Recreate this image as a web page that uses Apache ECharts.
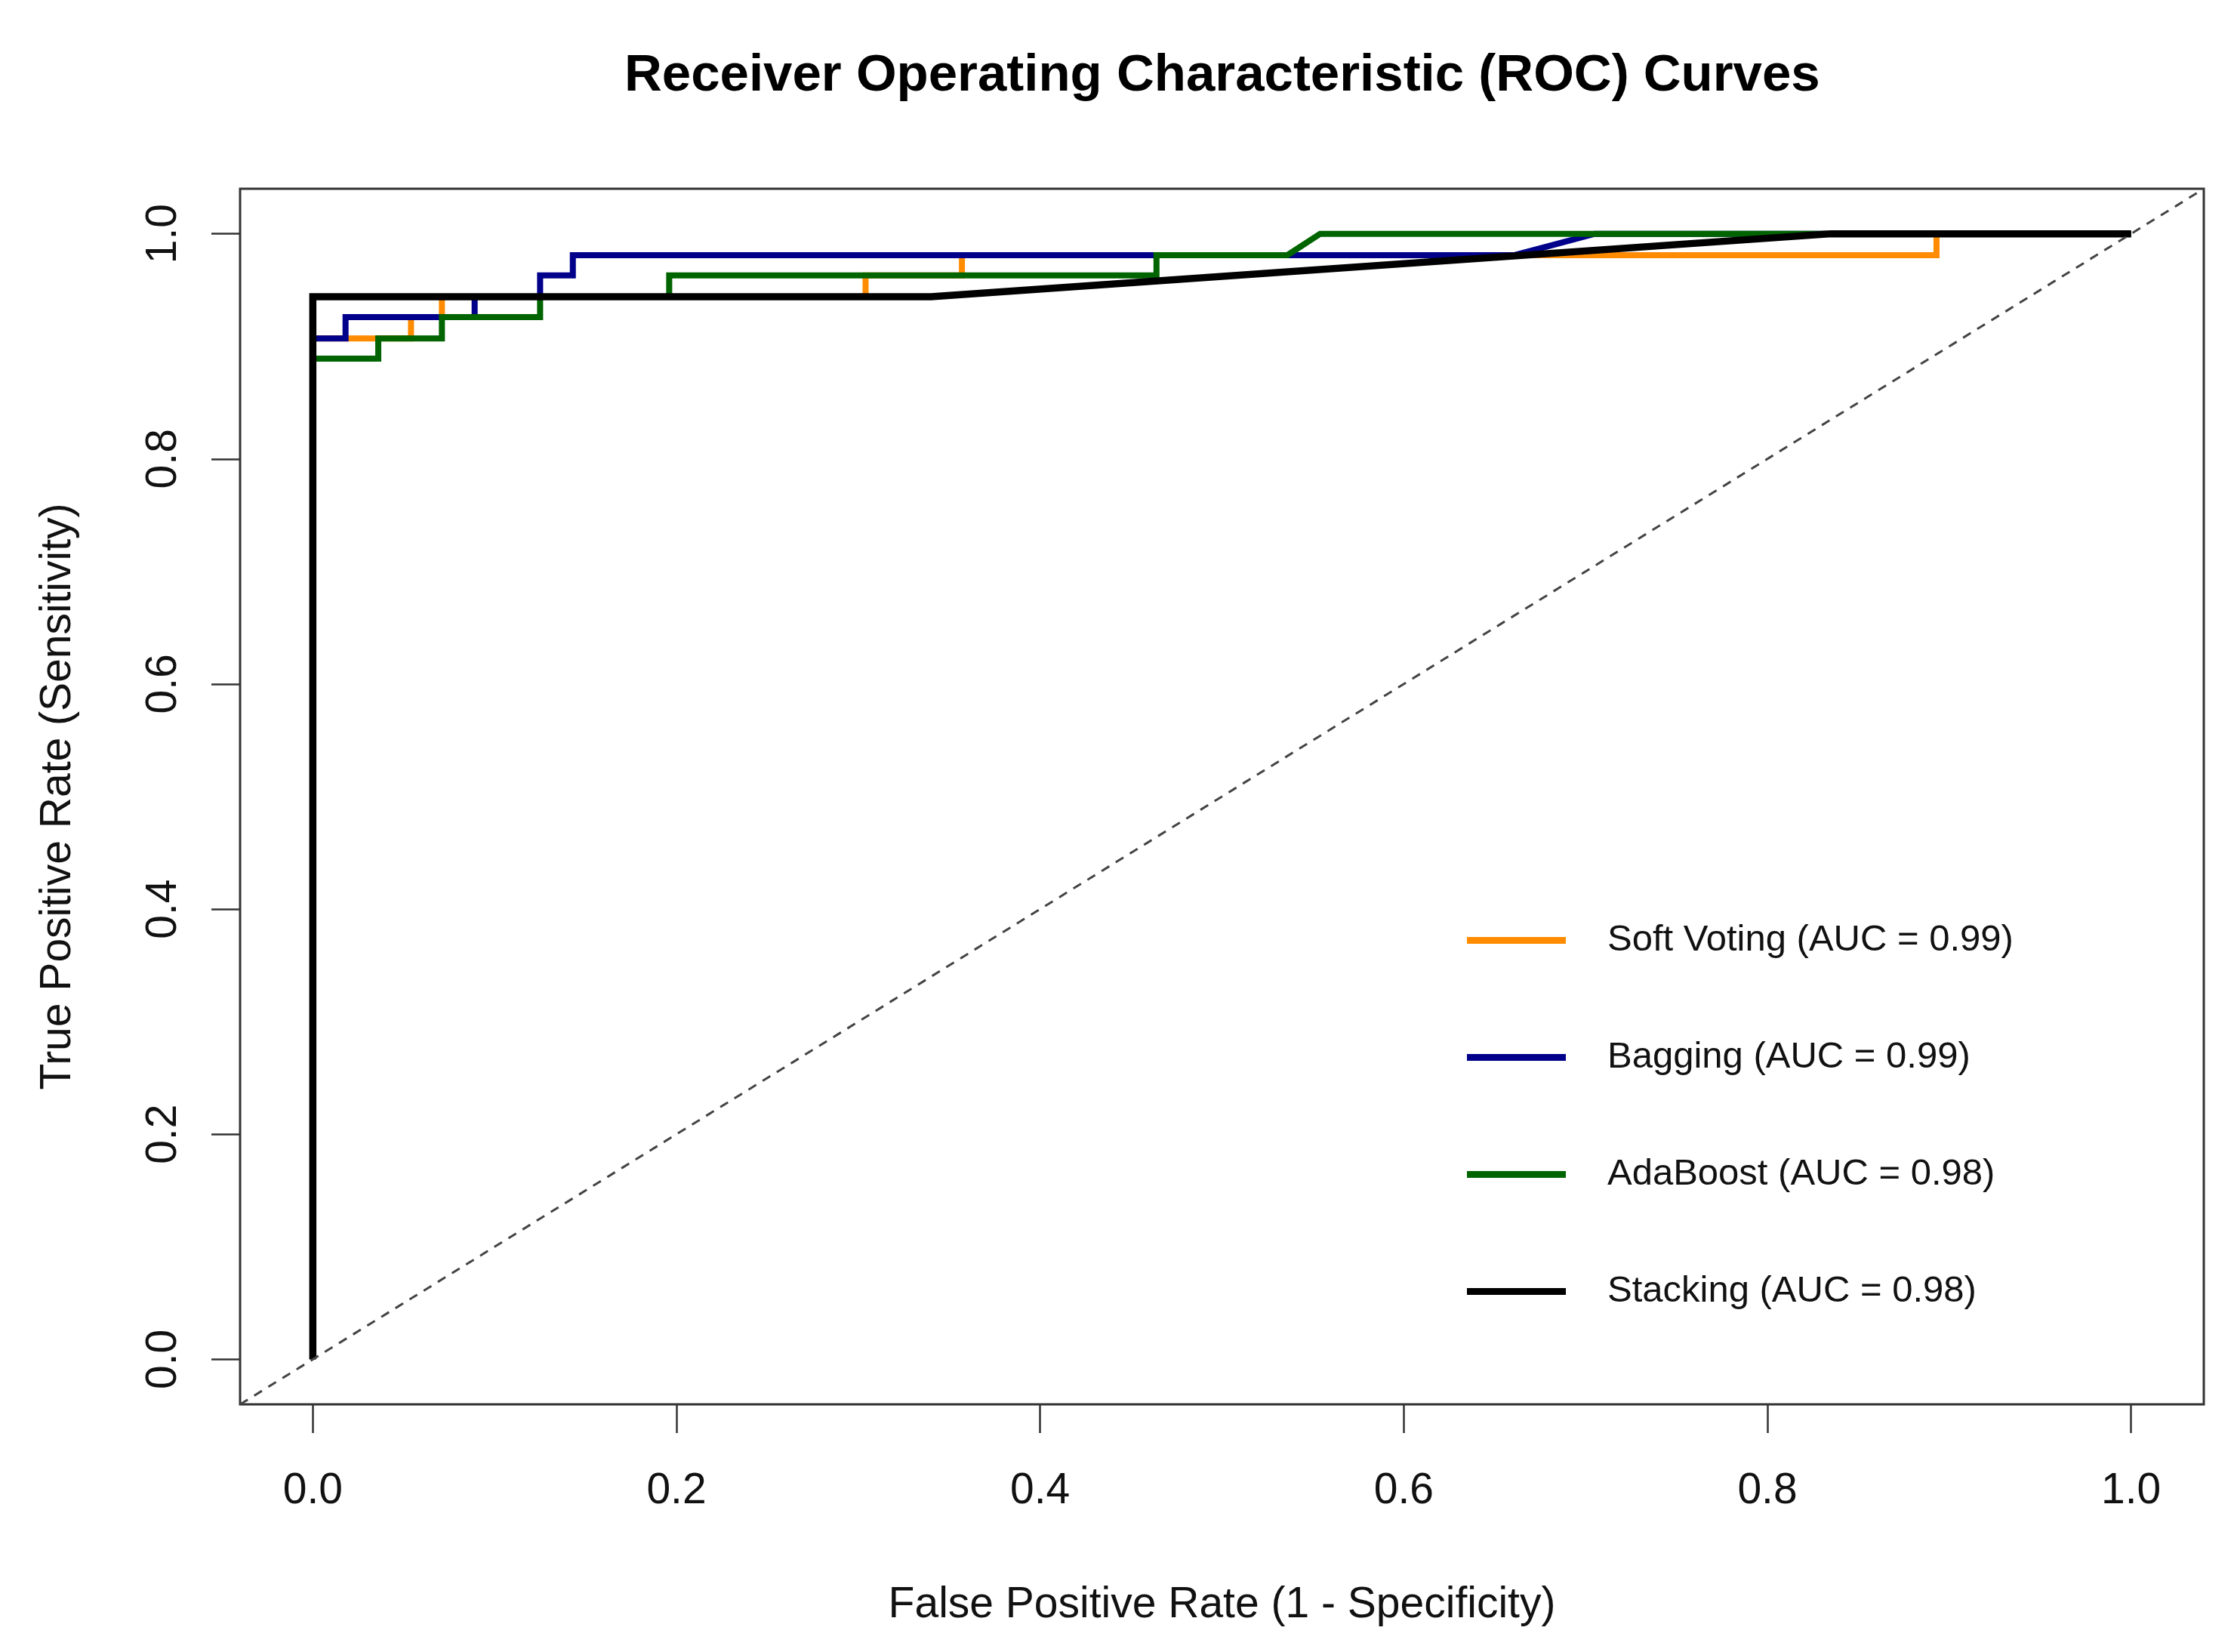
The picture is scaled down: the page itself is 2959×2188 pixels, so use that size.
<!DOCTYPE html>
<html>
<head>
<meta charset="utf-8">
<script src="https://cdn.jsdelivr.net/npm/echarts@6/dist/echarts.min.js"></script>
<style>
html,body{margin:0;padding:0;background:#fff;}
#chart{width:2959px;height:2188px;}
</style>
</head>
<body>
<div id="chart"></div>
<script>
// ---- data ----
const seriesNames = ['Soft Voting (AUC = 0.99)', 'Bagging (AUC = 0.99)', 'AdaBoost (AUC = 0.98)', 'Stacking (AUC = 0.98)'];
const seriesColors = ['#FF8C00', '#00008B', '#006400', '#000000'];

const softVotingFPR = [0, 0, 0.054, 0.054, 0.071, 0.071, 0.304, 0.304, 0.357, 0.357, 0.893, 0.893, 1];
const softVotingTPR = [0, 0.907, 0.907, 0.926, 0.926, 0.944, 0.944, 0.963, 0.963, 0.981, 0.981, 1, 1];

const baggingFPR = [0, 0, 0.018, 0.018, 0.089, 0.089, 0.125, 0.125, 0.143, 0.143, 0.661, 0.705, 1];
const baggingTPR = [0, 0.907, 0.907, 0.926, 0.926, 0.944, 0.944, 0.963, 0.963, 0.981, 0.981, 1, 1];

const adaBoostFPR = [0, 0, 0.036, 0.036, 0.071, 0.071, 0.125, 0.125, 0.196, 0.196, 0.464, 0.464, 0.536, 0.554, 1];
const adaBoostTPR = [0, 0.889, 0.889, 0.907, 0.907, 0.926, 0.926, 0.944, 0.944, 0.963, 0.963, 0.981, 0.981, 1, 1];

const stackingFPR = [0, 0, 0.34, 0.835, 1];
const stackingTPR = [0, 0.944, 0.944, 1, 1];

const diagonalX = [-0.04, 1.04];
const diagonalY = [-0.04, 1.04];

const tickValues = [0, 0.2, 0.4, 0.6, 0.8, 1.0];

const chartTitle = 'Receiver Operating Characteristic (ROC) Curves';
const xTitle = 'False Positive Rate (1 - Specificity)';
const yTitle = 'True Positive Rate (Sensitivity)';

// ---- build ----
function zip(xs, ys) { return xs.map((x, i) => [x, ys[i]]); }
const curves = [
  zip(softVotingFPR, softVotingTPR),
  zip(baggingFPR, baggingTPR),
  zip(adaBoostFPR, adaBoostTPR),
  zip(stackingFPR, stackingTPR)
];
const widths = [8, 8, 8, 9.5];

const FONT = '"Liberation Sans", Arial, Helvetica, sans-serif';

const chart = echarts.init(document.getElementById('chart'), null, {renderer: 'canvas'});

const series = curves.map((d, i) => ({
  name: seriesNames[i],
  type: 'line',
  data: d,
  showSymbol: false,
  symbol: 'none',
  lineStyle: {color: seriesColors[i], width: widths[i], cap: 'butt', join: 'miter'},
  itemStyle: {color: seriesColors[i]},
  z: 3 + i,
  silent: true
}));
series.push({
  name: 'diagonal',
  type: 'line',
  data: zip(diagonalX, diagonalY),
  showSymbol: false,
  symbol: 'none',
  lineStyle: {color: '#444444', width: 3, type: [12, 10]},
  z: 8,
  silent: true
});

const axisCommon = {
  type: 'value',
  min: -0.04,
  max: 1.04,
  splitLine: {show: false},
  axisLine: {show: false, onZero: false},
  axisTick: {show: true, inside: false, length: 38, customValues: tickValues,
             lineStyle: {color: '#333', width: 2.5}},
  nameLocation: 'middle',
  nameTextStyle: {fontFamily: FONT, fontSize: 57, color: '#111'}
};

chart.setOption({
  animation: false,
  backgroundColor: '#ffffff',
  title: {
    text: chartTitle,
    left: 827,
    top: 66,
    padding: 0,
    textStyle: {fontFamily: FONT, fontWeight: 'bold', fontSize: 69, color: '#000'}
  },
  grid: {
    left: 318, right: 40, top: 250, bottom: 328,
    show: true, borderColor: '#333', borderWidth: 3, backgroundColor: 'transparent'
  },
  legend: {
    data: seriesNames,
    orient: 'vertical',
    left: 1938,
    top: 1216,
    icon: 'rect',
    itemWidth: 131,
    itemHeight: 9,
    itemGap: 106,
    selectedMode: false,
    textStyle: {fontFamily: FONT, fontSize: 49, color: '#111', lineHeight: 49, padding: [0, 0, 0, 50]}
  },
  xAxis: Object.assign({}, axisCommon, {
    name: xTitle,
    nameGap: 238,
    axisLabel: {customValues: tickValues, margin: 87, fontFamily: FONT, fontSize: 57, color: '#111',
                formatter: v => v.toFixed(1)}
  }),
  yAxis: Object.assign({}, axisCommon, {
    name: yTitle,
    nameGap: 212,
    nameRotate: 90,
    axisLabel: {customValues: tickValues, margin: 72, rotate: 90, fontFamily: FONT, fontSize: 57, color: '#111',
                formatter: v => v.toFixed(1)}
  }),
  series: series
});
</script>
</body>
</html>
